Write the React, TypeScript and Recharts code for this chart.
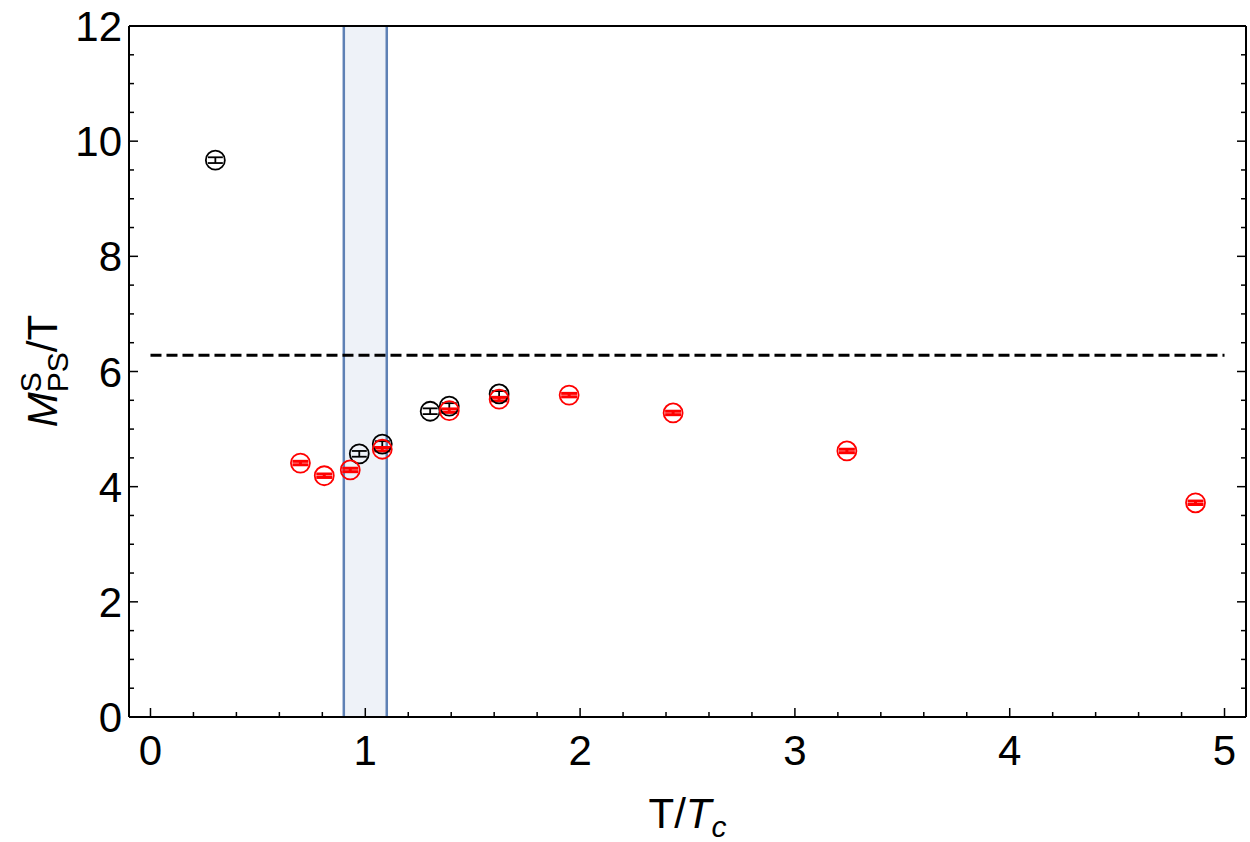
import React from "react";
import {
  ErrorBar,
  ReferenceArea,
  ReferenceLine,
  Scatter,
  ScatterChart,
  XAxis,
  YAxis,
} from "recharts";

// lattice points, T/Tc against screening mass over temperature
const blackT = [0.302, 0.972, 1.079, 1.302, 1.391, 1.623];
const blackM = [9.67, 4.57, 4.74, 5.31, 5.4, 5.61];
const blackErr = [0.05, 0.05, 0.05, 0.05, 0.05, 0.05];

const redT = [0.698, 0.809, 0.93, 1.079, 1.391, 1.623, 1.949, 2.433, 3.242, 4.865];
const redM = [4.41, 4.19, 4.29, 4.65, 5.32, 5.52, 5.59, 5.28, 4.62, 3.72];
const redErr = [0.03, 0.03, 0.03, 0.03, 0.03, 0.03, 0.03, 0.03, 0.03, 0.03];

const xMajor = [0, 1, 2, 3, 4, 5];
const yMajor = [0, 2, 4, 6, 8, 10, 12];
const xTicks = Array.from({ length: 26 }, (_, i) => +(i * 0.2).toFixed(1));
const yTicks = Array.from({ length: 25 }, (_, i) => i * 0.5);

const freeLimit = 2 * Math.PI;
const bandLo = 0.9;
const bandHi = 1.1;

const blackData = blackT.map((t, i) => ({ t, m: blackM[i], err: blackErr[i] }));
const redData = redT.map((t, i) => ({ t, m: redM[i], err: redErr[i] }));

const FONT = "'Liberation Sans', Arial, sans-serif";
const isMajor = (v: number, list: number[]) => list.some((m) => Math.abs(m - v) < 1e-6);

const BottomTick = ({ x, y, payload }: any) => {
  const major = isMajor(payload.value, xMajor);
  return (
    <g>
      <line x1={x} x2={x} y1={y} y2={y - (major ? 9 : 5)} stroke="#000" strokeWidth={1.5} />
      {major && (
        <text x={x} y={y + 48} textAnchor="middle" fontSize={42} fontFamily={FONT} fill="#000">
          {payload.value}
        </text>
      )}
    </g>
  );
};

const TopTick = ({ x, y, payload }: any) => {
  const major = isMajor(payload.value, xMajor);
  return <line x1={x} x2={x} y1={y} y2={y + (major ? 9 : 5)} stroke="#000" strokeWidth={1.5} />;
};

const LeftTick = ({ x, y, payload }: any) => {
  const major = isMajor(payload.value, yMajor);
  return (
    <g>
      <line x1={x} x2={x + (major ? 9 : 5)} y1={y} y2={y} stroke="#000" strokeWidth={1.5} />
      {major && (
        <text x={x - 7} y={y + 15} textAnchor="end" fontSize={42} fontFamily={FONT} fill="#000">
          {payload.value}
        </text>
      )}
    </g>
  );
};

const RightTick = ({ x, y, payload }: any) => {
  const major = isMajor(payload.value, yMajor);
  return <line x1={x} x2={x - (major ? 9 : 5)} y1={y} y2={y} stroke="#000" strokeWidth={1.5} />;
};

const ring = (color: string) => (props: any) =>
  <circle cx={props.cx} cy={props.cy} r={9.5} fill="none" stroke={color} strokeWidth={1.8} />;

const XTitle = ({ viewBox }: any) => {
  const cx = viewBox.x + viewBox.width / 2;
  return (
    <text x={cx} y={viewBox.y + 111} textAnchor="middle" fontSize={42} fontFamily={FONT} fill="#000">
      <tspan>T/</tspan>
      <tspan fontStyle="italic">T</tspan>
      <tspan fontStyle="italic" fontSize={30} dy={9}>c</tspan>
    </text>
  );
};

const YTitle = () => {
  const x = 57;
  const y = 371;
  return (
    <text
      x={x}
      y={y}
      transform={`rotate(-90, ${x}, ${y})`}
      textAnchor="middle"
      fontSize={42}
      fontFamily={FONT}
      fill="#000"
    >
      <tspan fontStyle="italic">M</tspan>
      <tspan fontSize={30} dy={-16}>S</tspan>
      <tspan fontSize={30} dx={-20} dy={27}>PS</tspan>
      <tspan dy={-11}>/T</tspan>
    </text>
  );
};

export default function App() {
  return (
    <div style={{ position: "absolute", left: 0, top: 0, background: "#fff" }}>
      <ScatterChart width={1250} height={842} margin={{ top: 25, right: 3, bottom: 0, left: 0 }}>
        <XAxis
          dataKey="t"
          type="number"
          domain={[-0.1, 5.1]}
          ticks={xTicks}
          interval={0}
          height={125}
          tickSize={0}
          tickMargin={0}
          tick={<BottomTick />}
          axisLine={{ stroke: "#000", strokeWidth: 2 }}
          allowDataOverflow
          label={<XTitle />}
        />
        <XAxis
          xAxisId="top"
          orientation="top"
          type="number"
          domain={[-0.1, 5.1]}
          ticks={xTicks}
          interval={0}
          height={1}
          tickSize={0}
          tickMargin={0}
          tick={<TopTick />}
          axisLine={{ stroke: "#000", strokeWidth: 2 }}
          allowDataOverflow
        />
        <YAxis
          dataKey="m"
          type="number"
          domain={[0, 12]}
          ticks={yTicks}
          interval={0}
          width={129}
          tickSize={0}
          tickMargin={0}
          tick={<LeftTick />}
          axisLine={{ stroke: "#000", strokeWidth: 2 }}
          allowDataOverflow
          label={<YTitle />}
        />
        <YAxis
          yAxisId="right"
          orientation="right"
          type="number"
          domain={[0, 12]}
          ticks={yTicks}
          interval={0}
          width={1}
          tickSize={0}
          tickMargin={0}
          tick={<RightTick />}
          axisLine={{ stroke: "#000", strokeWidth: 2 }}
          allowDataOverflow
        />

        <ReferenceArea x1={bandLo} x2={bandHi} y1={0} y2={12} fill="#eef2f8" fillOpacity={1} stroke="none" />
        <ReferenceLine x={bandLo} stroke="#5e81b5" strokeWidth={2.5} />
        <ReferenceLine x={bandHi} stroke="#5e81b5" strokeWidth={2.5} />
        <ReferenceLine
          segment={[
            { x: 0, y: freeLimit },
            { x: 5, y: freeLimit },
          ]}
          stroke="#000"
          strokeWidth={3}
          strokeDasharray="11 5"
        />

        <Scatter data={blackData} shape={ring("#000")} isAnimationActive={false}>
          <ErrorBar dataKey="err" direction="y" width={7.5} stroke="#000" strokeWidth={1.8} isAnimationActive={false} />
        </Scatter>
        <Scatter data={redData} shape={ring("#ff0000")} isAnimationActive={false}>
          <ErrorBar dataKey="err" direction="y" width={8} stroke="#ff0000" strokeWidth={3} isAnimationActive={false} />
        </Scatter>
      </ScatterChart>
    </div>
  );
}
